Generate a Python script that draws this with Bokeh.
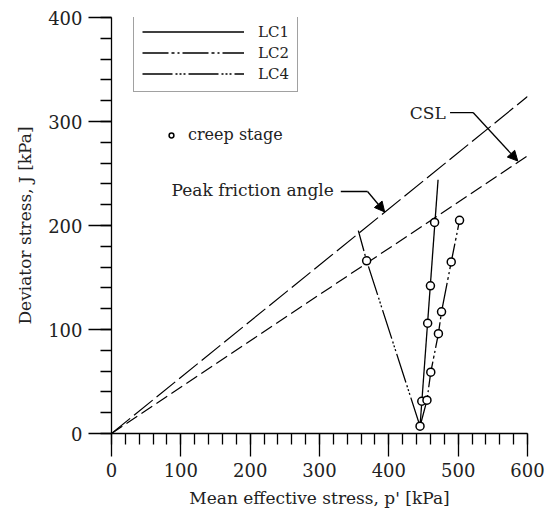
from bokeh.plotting import figure
from bokeh.models import (Range1d, Legend, LegendItem, Label, Arrow, NormalHead,
                          SingleIntervalTicker)
from bokeh.embed import file_html
from bokeh.resources import INLINE

FONT = "DejaVu Serif"

# strength envelopes, J = M * p'
env_p = [0, 600]
peak_M = 0.54
csl_M = 0.445

# stress paths (p', J) in kPa
lc1_p = [445, 471]
lc1_j = [7, 244]
lc2_p = [445, 455, 460.5, 471.5, 476, 490, 502]
lc2_j = [7, 32, 59, 96, 117, 165, 205]
lc4_p = [445, 368, 356]
lc4_j = [7, 166, 195]

# creep stages along the paths
creep_p = [445, 447.5, 456, 460, 466, 455, 460.5, 471.5, 476, 490, 502, 368]
creep_j = [7, 31, 106, 142, 203, 32, 59, 96, 117, 165, 205, 166]

x_ticks_step = 100
y_ticks_step = 100

p = figure(width=547, height=517, output_backend="svg", toolbar_location=None,
           x_range=Range1d(0, 600), y_range=Range1d(0, 400),
           min_border_left=111, min_border_right=20,
           min_border_top=17, min_border_bottom=84)
p.outline_line_color = None
p.grid.visible = False
p.background_fill_color = "white"

for ax, step in ((p.xaxis[0], x_ticks_step), (p.yaxis[0], y_ticks_step)):
    ax.ticker = SingleIntervalTicker(interval=step, num_minor_ticks=5)
    ax.major_tick_in = 0
    ax.minor_tick_in = 0
    ax.major_tick_out = 23
    ax.minor_tick_out = 11
    ax.axis_line_width = 1.3
    ax.major_tick_line_width = 1.3
    ax.minor_tick_line_width = 1.3
    ax.axis_line_color = "black"
    ax.major_tick_line_color = "black"
    ax.minor_tick_line_color = "black"
    ax.major_label_text_font = FONT
    ax.major_label_text_font_size = "18px"
    ax.major_label_text_color = "#222222"
    ax.axis_label_text_font = FONT
    ax.axis_label_text_font_size = "17px"
    ax.axis_label_text_font_style = "normal"
    ax.axis_label_text_color = "#222222"

p.xaxis.axis_label = "Mean effective stress, p' [kPa]"
p.yaxis.axis_label = "Deviator stress, J [kPa]"
p.xaxis.major_label_standoff = 6
p.yaxis.major_label_standoff = 6
p.xaxis.axis_label_standoff = 8
p.yaxis.axis_label_standoff = 10

# envelopes
p.line(env_p, [peak_M * v for v in env_p], line_color="black", line_width=1.2,
       line_dash="24 5")
p.line(env_p, [csl_M * v for v in env_p], line_color="black", line_width=1.2,
       line_dash="13 5")

# stress paths
r1 = p.line(lc1_p, lc1_j, line_color="black", line_width=1.3)
r2 = p.line(lc2_p, lc2_j, line_color="black", line_width=1.3,
            line_dash="26 3 3 3 2 3")
r4 = p.line(lc4_p, lc4_j, line_color="black", line_width=1.3,
            line_dash="30 3 2 2 2 2 2 3")

rc = p.scatter(creep_p, creep_j, marker="circle", size=8, fill_color="white",
               line_color="black", line_width=1.5)

leg = Legend(items=[LegendItem(label="LC1", renderers=[r1]),
                    LegendItem(label="LC2", renderers=[r2]),
                    LegendItem(label="LC4", renderers=[r4])],
             location=(22, 341), orientation="vertical",
             glyph_width=102, glyph_height=19, label_height=19,
             label_standoff=14, spacing=2, padding=8, margin=0,
             border_line_color="#444444", border_line_width=1.5,
             label_text_font=FONT, label_text_font_size="15px",
             label_text_color="#222222", background_fill_alpha=1)
p.add_layout(leg)

leg2 = Legend(items=[LegendItem(label="creep stage", renderers=[rc])],
              location=(54, 289), glyph_width=12, glyph_height=18,
              label_height=18, label_standoff=11, padding=0, margin=0,
              border_line_alpha=0, background_fill_alpha=0,
              label_text_font=FONT, label_text_font_size="16px",
              label_text_color="#222222")
p.add_layout(leg2)

# callouts
p.add_layout(Label(x=482, y=308.6, text="CSL", text_align="right",
                   text_baseline="middle", text_font=FONT,
                   text_font_size="17px", text_color="#222222"))
p.line([488.3, 521.5], [308.6, 308.6], line_color="black", line_width=1.3)
p.add_layout(Arrow(x_start=521.5, y_start=308.6, x_end=586, y_end=262,
                   line_width=1.3, line_color="black",
                   end=NormalHead(size=10, fill_color="black", line_color="black")))

p.add_layout(Label(x=320.7, y=233.7, text="Peak friction angle", text_align="right",
                   text_baseline="middle", text_font=FONT,
                   text_font_size="17px", text_color="#222222"))
p.line([330.7, 369.3], [232.7, 232.7], line_color="black", line_width=1.3)
p.add_layout(Arrow(x_start=369.3, y_start=232.7, x_end=394, y_end=213,
                   line_width=1.3, line_color="black",
                   end=NormalHead(size=10, fill_color="black", line_color="black")))

open("out.html", "w").write(file_html(p, INLINE))
